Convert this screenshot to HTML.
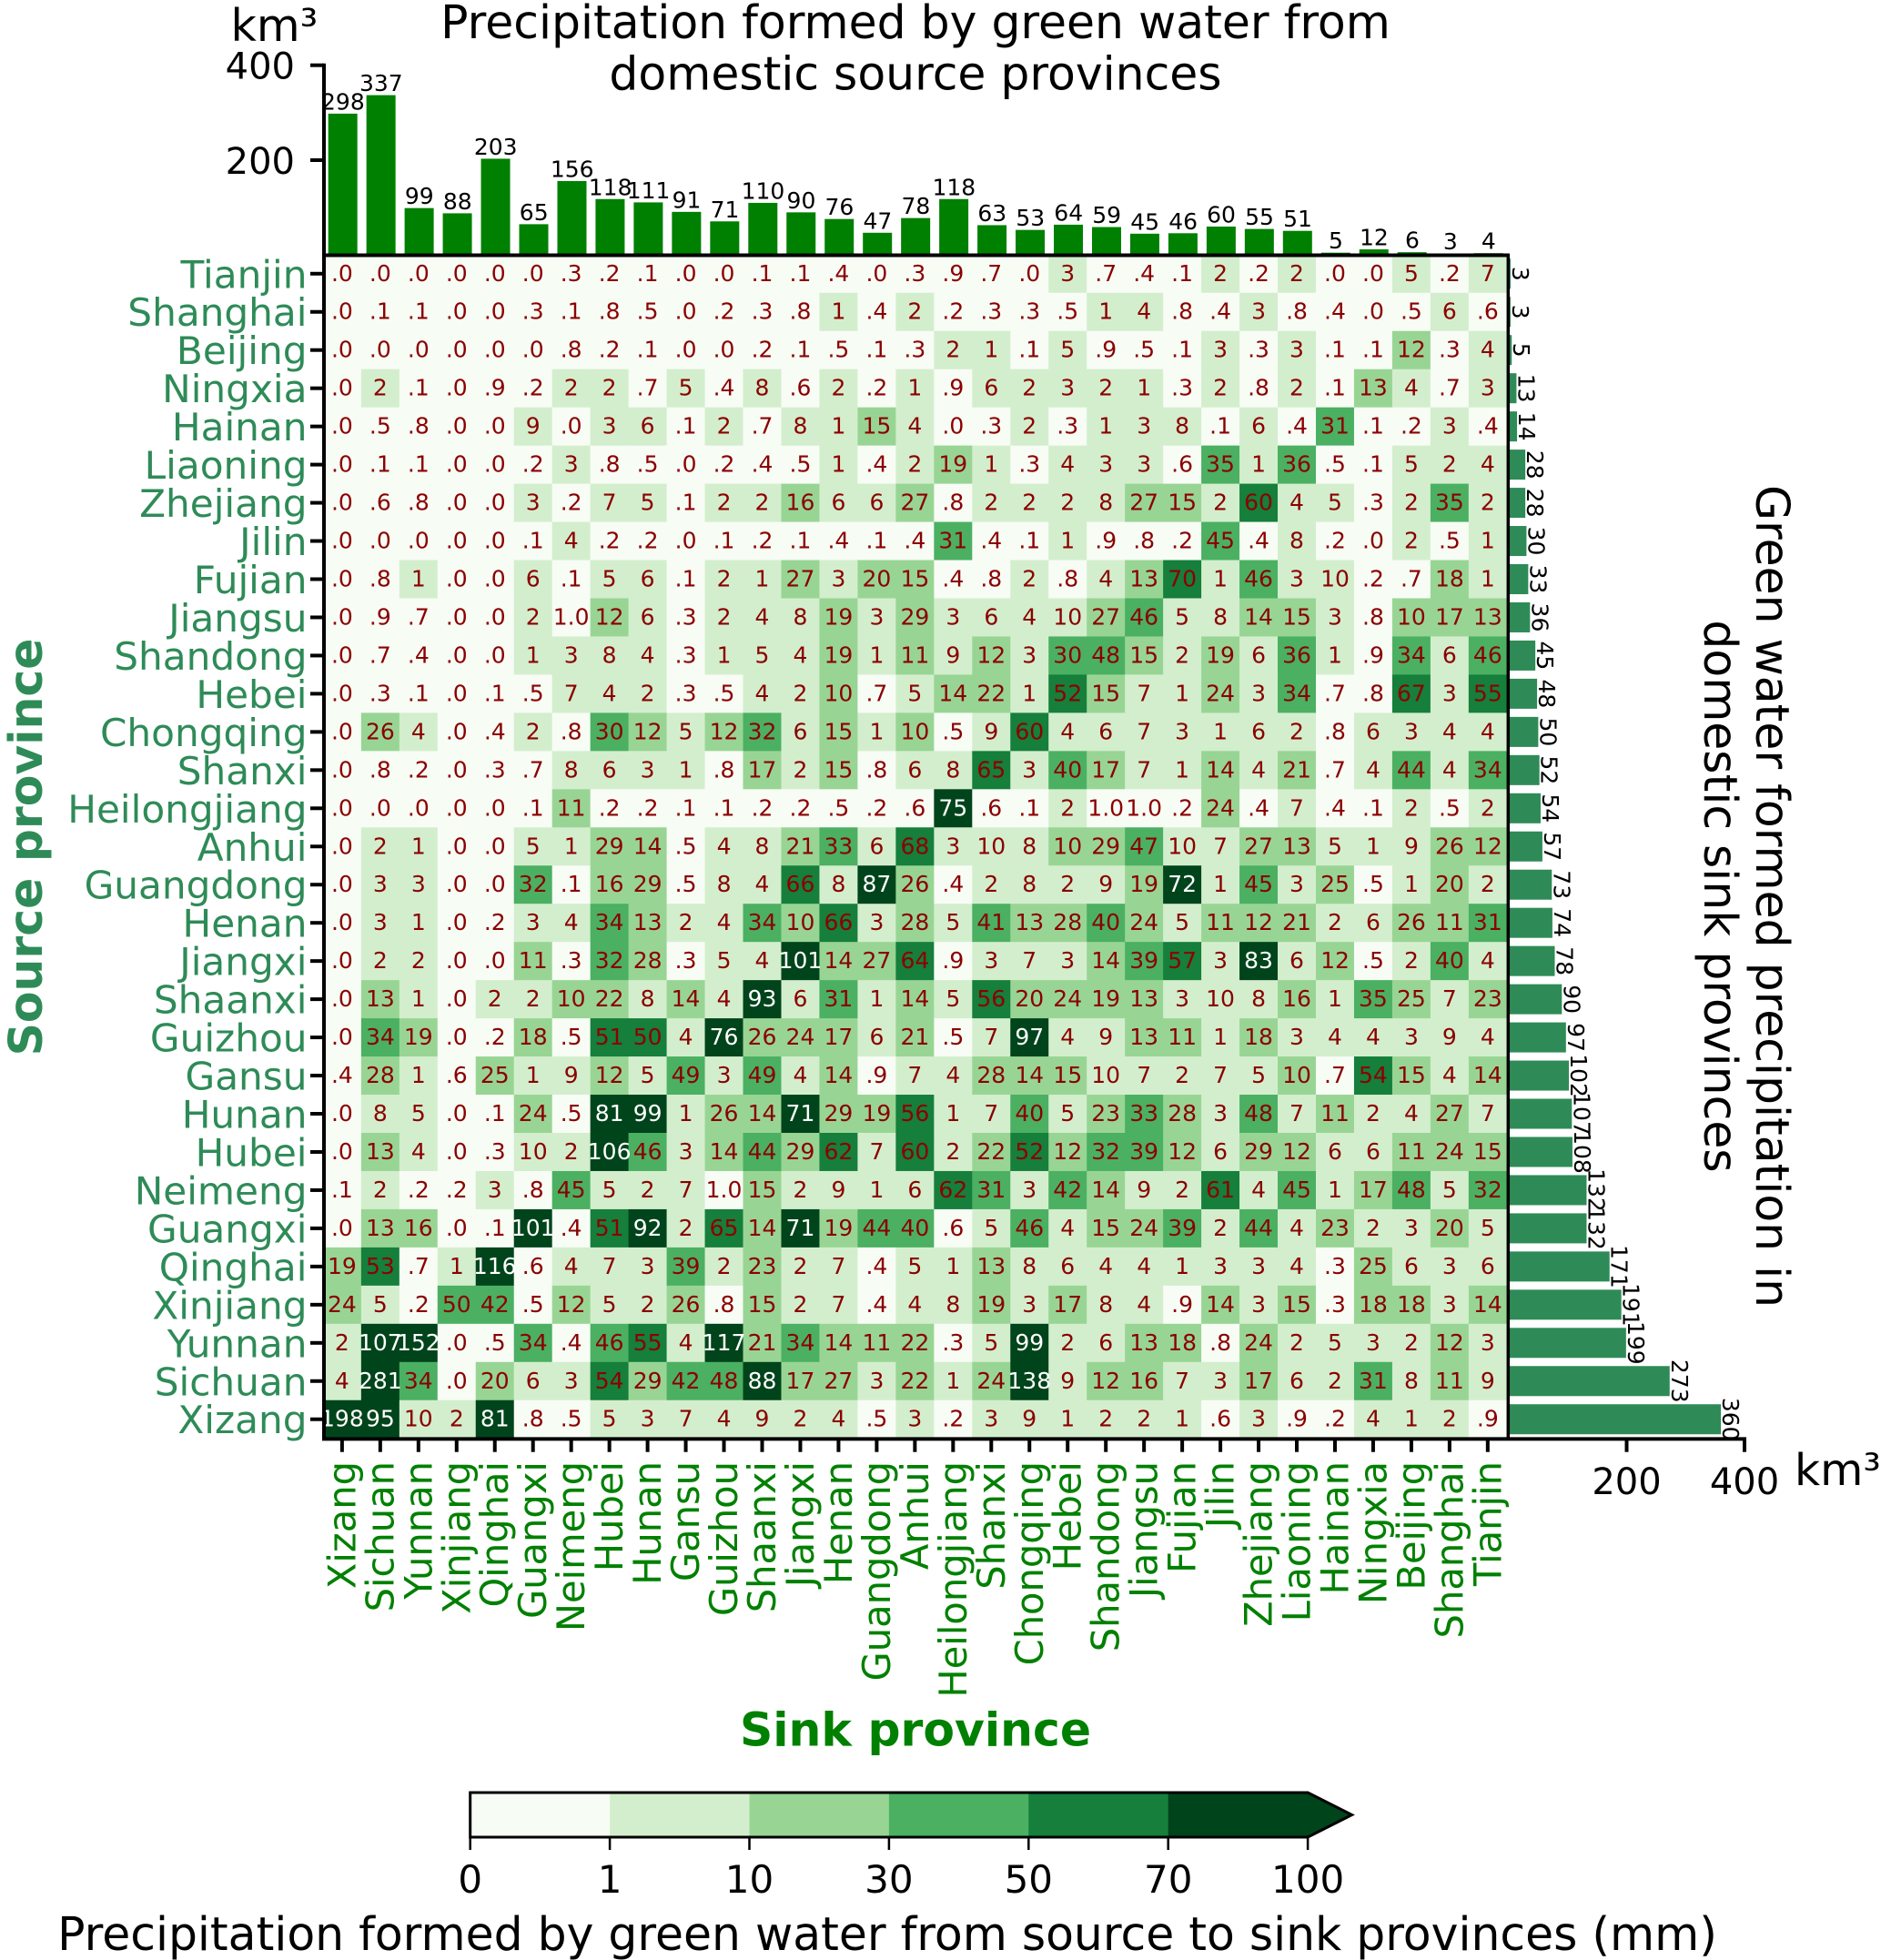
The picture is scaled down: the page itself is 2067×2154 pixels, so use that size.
<!DOCTYPE html>
<html lang="en">
<head>
<meta charset="utf-8">
<title>Precipitation formed by green water</title>
<style>
html,body{margin:0;padding:0;background:#fff;}
svg{display:block;font-family:"DejaVu Sans","Liberation Sans",sans-serif;}
</style>
</head>
<body>
<svg id="chart" xmlns="http://www.w3.org/2000/svg" width="2067" height="2154" viewBox="0 0 2067 2154">
  <rect x="0" y="0" width="2067" height="2154" fill="#ffffff"/>
  <g id="heat"></g>
  <g id="heatText"></g>
  <g id="topBars"></g>
  <g id="rightBars"></g>
  <g id="axes"></g>
  <g id="cbar"></g>

  <text x="1006" y="42" font-size="50.4" text-anchor="middle" fill="#000">Precipitation formed by green water from</text>
  <text x="1006" y="98.5" font-size="50.4" text-anchor="middle" fill="#000">domestic source provinces</text>
  <text x="253.5" y="45" font-size="49" fill="#000">km³</text>
  <text x="1972" y="1632" font-size="48.5" fill="#000">km³</text>
  <text transform="translate(46,931) rotate(-90)" font-size="50.4" font-weight="bold" text-anchor="middle" fill="#2e8b57">Source province</text>
  <text x="1006" y="1918.5" font-size="50.4" font-weight="bold" text-anchor="middle" fill="#008000">Sink province</text>
  <text transform="translate(1930,985) rotate(90)" font-size="50.4" text-anchor="middle" fill="#000">Green water formed precipitation in</text>
  <text transform="translate(1873,985) rotate(90)" font-size="50.4" text-anchor="middle" fill="#000">domestic sink provinces</text>
  <text x="975" y="2143" font-size="50.4" text-anchor="middle" fill="#000">Precipitation formed by green water from source to sink provinces (mm)</text>
</svg>
<script>
const sinkProvinces = ["Xizang","Sichuan","Yunnan","Xinjiang","Qinghai","Guangxi","Neimeng","Hubei","Hunan","Gansu","Guizhou","Shaanxi","Jiangxi","Henan","Guangdong","Anhui","Heilongjiang","Shanxi","Chongqing","Hebei","Shandong","Jiangsu","Fujian","Jilin","Zhejiang","Liaoning","Hainan","Ningxia","Beijing","Shanghai","Tianjin"];
const sourceProvinces = ["Tianjin","Shanghai","Beijing","Ningxia","Hainan","Liaoning","Zhejiang","Jilin","Fujian","Jiangsu","Shandong","Hebei","Chongqing","Shanxi","Heilongjiang","Anhui","Guangdong","Henan","Jiangxi","Shaanxi","Guizhou","Gansu","Hunan","Hubei","Neimeng","Guangxi","Qinghai","Xinjiang","Yunnan","Sichuan","Xizang"];

const sinkTotals = [298,337,99,88,203,65,156,118,111,91,71,110,90,76,47,78,118,63,53,64,59,45,46,60,55,51,5,12,6,3,4];
const sourceTotals = [3,3,5,13,14,28,28,30,33,36,45,48,50,52,54,57,73,74,78,90,97,102,107,108,132,132,171,191,199,273,360];

const topTicks = [200,400];
const rightTicks = [200,400];
const colorBounds = [0,1,10,30,50,70,100];
const colorPalette = ["#f7fcf5","#d3eecd","#98d594","#4bb062","#157f3b","#00441b"];

const rowTianjin = [0,0,0,0,0,0,.3,.2,.1,0,0,.1,.1,.4,0,.3,.9,.7,0,3,.7,.4,.1,2,.2,2,0,0,5,.2,7];
const rowShanghai = [0,.1,.1,0,0,.3,.1,.8,.5,0,.2,.3,.8,1,.4,2,.2,.3,.3,.5,1,4,.8,.4,3,.8,.4,0,.5,6,.6];
const rowBeijing = [0,0,0,0,0,0,.8,.2,.1,0,0,.2,.1,.5,.1,.3,2,1,.1,5,.9,.5,.1,3,.3,3,.1,.1,12,.3,4];
const rowNingxia = [0,2,.1,0,.9,.2,2,2,.7,5,.4,8,.6,2,.2,1,.9,6,2,3,2,1,.3,2,.8,2,.1,13,4,.7,3];
const rowHainan = [0,.5,.8,0,0,9,0,3,6,.1,2,.7,8,1,15,4,0,.3,2,.3,1,3,8,.1,6,.4,31,.1,.2,3,.4];
const rowLiaoning = [0,.1,.1,0,0,.2,3,.8,.5,0,.2,.4,.5,1,.4,2,19,1,.3,4,3,3,.6,35,1,36,.5,.1,5,2,4];
const rowZhejiang = [0,.6,.8,0,0,3,.2,7,5,.1,2,2,16,6,6,27,.8,2,2,2,8,27,15,2,60,4,5,.3,2,35,2];
const rowJilin = [0,0,0,0,0,.1,4,.2,.2,0,.1,.2,.1,.4,.1,.4,31,.4,.1,1,.9,.8,.2,45,.4,8,.2,0,2,.5,1];
const rowFujian = [0,.8,1,0,0,6,.1,5,6,.1,2,1,27,3,20,15,.4,.8,2,.8,4,13,69.6,1,46,3,9.6,.2,.7,18,1];
const rowJiangsu = [0,.9,.7,0,0,2,.96,12,6,.3,2,4,8,19,3,29,3,6,4,9.6,27,46,5,8,14,15,3,.8,10,17,13];
const rowShandong = [0,.7,.4,0,0,1,3,8,4,.3,1,5,4,19,1,11,9,12,3,30,48,15,2,19,6,36,1,.9,34,6,46];
const rowHebei = [0,.3,.1,0,.1,.5,7,4,2,.3,.5,4,2,10,.7,5,14,22,1,52,15,7,1,24,3,34,.7,.8,67,3,55];
const rowChongqing = [0,26,4,0,.4,2,.8,30,12,5,12,32,6,15,1,10,.5,9,60,4,6,7,3,1,6,2,.8,6,3,4,4];
const rowShanxi = [0,.8,.2,0,.3,.7,8,6,3,1,.8,17,2,15,.8,6,8,65,3,40,17,7,1,14,4,21,.7,4,44,4,34];
const rowHeilongjiang = [0,0,0,0,0,.1,11,.2,.2,.1,.1,.2,.2,.5,.2,.6,75,.6,.1,2,.96,.96,.2,24,.4,7,.4,.1,2,.5,2];
const rowAnhui = [0,2,1,0,0,5,1,29,14,.5,4,8,21,33,6,68,3,9.6,8,10,29,47,9.6,7,27,13,5,1,9,26,12];
const rowGuangdong = [0,3,3,0,0,32,.1,16,29,.5,8,4,66,8,87,26,.4,2,8,2,9,19,72,1,45,3,25,.5,1,20,2];
const rowHenan = [0,3,1,0,.2,3,4,34,13,2,4,34,10,66,3,28,5,41,13,28,40,24,5,11,12,21,2,6,26,11,31];
const rowJiangxi = [0,2,2,0,0,11,.3,32,28,.3,5,4,101,14,27,64,.9,3,7,3,14,39,57,3,83,6,12,.5,2,40,4];
const rowShaanxi = [0,13,1,0,2,2,10,22,8,14,4,93,6,31,1,14,5,56,20,24,19,13,3,9.6,8,16,1,35,25,7,23];
const rowGuizhou = [0,34,19,0,.2,18,.5,51,50,4,76,26,24,17,6,21,.5,7,97,4,9,13,11,1,18,3,4,4,3,9,4];
const rowGansu = [.4,28,1,.6,25,1,9,12,5,49,3,49,4,14,.9,7,4,28,14,15,9.6,7,2,7,5,10,.7,54,15,4,14];
const rowHunan = [0,8,5,0,.1,24,.5,81,99,1,26,14,71,29,19,56,1,7,40,5,23,33,28,3,48,7,11,2,4,27,7];
const rowHubei = [0,13,4,0,.3,9.6,2,106,46,3,14,44,29,62,7,60,2,22,52,12,32,39,12,6,29,12,6,6,11,24,15];
const rowNeimeng = [.1,2,.2,.2,3,.8,45,5,2,7,.96,15,2,9,1,6,62,31,3,42,14,9,2,61,4,45,1,17,48,5,32];
const rowGuangxi = [0,13,16,0,.1,101,.4,51,92,2,65,14,71,19,44,40,.6,5,46,4,15,24,39,2,44,4,23,2,3,20,5];
const rowQinghai = [19,53,.7,1,116,.6,4,7,3,39,2,23,2,7,.4,5,1,13,8,6,4,4,1,3,3,4,.3,25,6,3,6];
const rowXinjiang = [24,5,.2,49.6,42,.5,12,5,2,26,.8,15,2,7,.4,4,8,19,3,17,8,4,.9,14,3,15,.3,18,18,3,14];
const rowYunnan = [2,107,152,0,.5,34,.4,46,55,4,117,21,34,14,11,22,.3,5,99,2,6,13,18,.8,24,2,5,3,2,12,3];
const rowSichuan = [4,281,34,0,20,6,3,54,29,42,48,88,17,27,3,22,1,24,138,9,12,16,7,3,17,6,2,31,8,11,9];
const rowXizang = [198,95,9.6,2,81,.8,.5,5,3,7,4,9,2,4,.5,3,.2,3,9,1,2,2,1,.6,3,.9,.2,4,1,2,.9];

const matrix = [rowTianjin,rowShanghai,rowBeijing,rowNingxia,rowHainan,rowLiaoning,rowZhejiang,rowJilin,rowFujian,rowJiangsu,rowShandong,rowHebei,rowChongqing,rowShanxi,rowHeilongjiang,rowAnhui,rowGuangdong,rowHenan,rowJiangxi,rowShaanxi,rowGuizhou,rowGansu,rowHunan,rowHubei,rowNeimeng,rowGuangxi,rowQinghai,rowXinjiang,rowYunnan,rowSichuan,rowXizang];

const NS = "http://www.w3.org/2000/svg";
const CELL = 41.965;
const LEFT = 354.9;
const TOP = 279.8;
const BOTTOM = TOP + CELL * sourceProvinces.length;
const RIGHT = LEFT + CELL * sinkProvinces.length;

function colX(i){ return LEFT + CELL * i; }
function rowY(i){ return TOP + CELL * i; }
function colCenter(i){ return colX(i) + CELL / 2; }
function rowCenter(i){ return rowY(i) + CELL / 2; }
function topY(v){ return 280.3 - v * 0.5215; }
function rightX(v){ return 1658 + v * 0.6475; }
function cbarX(i){ return 516.7 + i * 153.4; }

function binIndex(v){
  let k = 0;
  for (let b = 1; b < colorBounds.length - 1; b++) { if (v >= colorBounds[b]) k = b; }
  return k;
}
function cellLabel(v){
  if (v < 1) return v.toFixed(1).replace(/^0/, "");
  return String(Math.round(v));
}
function shape(parent, tag, attrs){
  const el = document.createElementNS(NS, tag);
  for (const k in attrs) el.setAttribute(k, attrs[k]);
  parent.appendChild(el);
  return el;
}
function label(parent, str, attrs){
  const el = shape(parent, "text", attrs);
  el.textContent = str;
  return el;
}

const heat = document.getElementById("heat");
const heatText = document.getElementById("heatText");
matrix.forEach(function(row, r){
  row.forEach(function(v, c){
    const bin = binIndex(v);
    const cell = shape(heat, "rect", {x: colX(c), y: rowY(r), width: CELL + 0.4, height: CELL + 0.4, fill: colorPalette[bin]});
    
    
    const t = label(heatText, cellLabel(v), {x: colCenter(c), y: rowCenter(r) + 8, "font-size": 25, "text-anchor": "middle", fill: bin === 5 ? "#ffffff" : "#8b0000"});
    
    
  });
});

const topBars = document.getElementById("topBars");
sinkTotals.forEach(function(v, i){
  const y = topY(v);
  const bar = shape(topBars, "rect", {x: colCenter(i) - 16 + 0.8, y: y, width: 32, height: 280.3 - y, fill: "#008000"});
  
  
  const t = label(topBars, String(v), {x: colCenter(i) + 1, y: y - 4.5, "font-size": 25, "text-anchor": "middle", fill: "#000"});
  
  
});

const rightBars = document.getElementById("rightBars");
sourceTotals.forEach(function(v, i){
  const x = rightX(v);
  const bar = shape(rightBars, "rect", {x: 1658, y: rowCenter(i) - 16.5, width: x - 1658, height: 33, fill: "#2e8b57"});
  
  
  const t = label(rightBars, String(v), {transform: "translate(" + (x + 2) + "," + rowCenter(i) + ") rotate(90)", "font-size": 25, "text-anchor": "middle", fill: "#000"});
  
  
});

const axes = document.getElementById("axes");
const frameLeft = shape(axes, "line", {x1: 356, x2: 356, y1: topY(400) - 2, y2: BOTTOM + 2, stroke: "#000", "stroke-width": 4});


const frameTop = shape(axes, "line", {x1: 354, x2: RIGHT + 3, y1: 280.5, y2: 280.5, stroke: "#000", "stroke-width": 4});


const frameRight = shape(axes, "line", {x1: RIGHT + 1.5, x2: RIGHT + 1.5, y1: 279, y2: BOTTOM + 2, stroke: "#000", "stroke-width": 3.5});


const frameBottom = shape(axes, "line", {x1: 354, x2: rightX(400) + 2, y1: BOTTOM + 0.6, y2: BOTTOM + 0.6, stroke: "#000", "stroke-width": 4});



sourceProvinces.forEach(function(name, i){
  const y = rowCenter(i);
  const tick = shape(axes, "line", {x1: 341, x2: 356, y1: y, y2: y, stroke: "#000", "stroke-width": 4});
  
  
  const t = label(axes, name, {x: 337.5, y: y + 15.5, "font-size": 42.2, "text-anchor": "end", fill: "#2e8b57"});
  
  
});

sinkProvinces.forEach(function(name, i){
  const x = colCenter(i);
  const tick = shape(axes, "line", {x1: x, x2: x, y1: BOTTOM, y2: BOTTOM + 15, stroke: "#000", "stroke-width": 4});
  
  
  const t = label(axes, name, {transform: "translate(" + (x + 14.5) + ",1606) rotate(-90)", "font-size": 41.6, "text-anchor": "end", fill: "#008000"});
  
  
});

topTicks.forEach(function(v){
  const y = topY(v);
  const tick = shape(axes, "line", {x1: 341, x2: 356, y1: y, y2: y, stroke: "#000", "stroke-width": 4});
  
  
  const t = label(axes, String(v), {x: 324, y: y + 15, "font-size": 40, "text-anchor": "end", fill: "#000"});
  
  
});

rightTicks.forEach(function(v){
  const x = rightX(v);
  const tick = shape(axes, "line", {x1: x, x2: x, y1: BOTTOM, y2: BOTTOM + 15, stroke: "#000", "stroke-width": 4});
  
  
  const t = label(axes, String(v), {x: x, y: 1642, "font-size": 40, "text-anchor": "middle", fill: "#000"});
  
  
});

const cbar = document.getElementById("cbar");
colorPalette.forEach(function(col, i){
  const seg = shape(cbar, "rect", {x: cbarX(i), y: 1970, width: 153.9, height: 49, fill: col});
  
  
});
const tip = shape(cbar, "polygon", {points: cbarX(6) + ",1970 1485.6,1994.5 " + cbarX(6) + ",2019", fill: colorPalette[5]});


const outline = shape(cbar, "polygon", {points: cbarX(0) + ",1970 " + cbarX(6) + ",1970 1485.6,1994.5 " + cbarX(6) + ",2019 " + cbarX(0) + ",2019", fill: "none", stroke: "#000", "stroke-width": 3});


colorBounds.forEach(function(v, i){
  const x = cbarX(i);
  const tick = shape(cbar, "line", {x1: x, x2: x, y1: 2019, y2: 2033, stroke: "#000", "stroke-width": 2.5});
  
  
  const t = label(cbar, String(v), {x: x, y: 2080, "font-size": 42, "text-anchor": "middle", fill: "#000"});
  
  
});
</script>
</body>
</html>
